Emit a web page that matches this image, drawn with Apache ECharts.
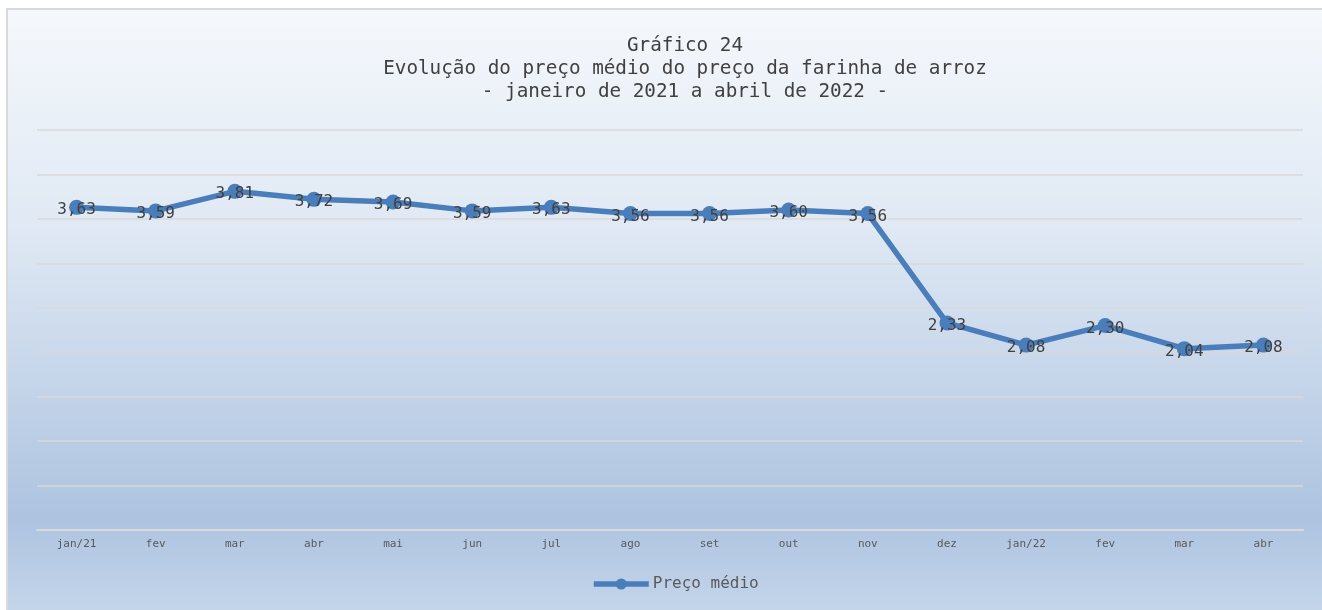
<!DOCTYPE html>
<html>
<head>
<meta charset="utf-8">
<script src="https://cdn.jsdelivr.net/npm/echarts@6/dist/echarts.min.js"></script>
<style>
  html, body { margin: 0; padding: 0; background: #ffffff; }
  #chart { width: 1322px; height: 610px; }
</style>
</head>
<body>
<div id="chart"></div>
<script>
// meses (jan/2021 a abr/2022)
const categorias = ["jan/21", "fev", "mar", "abr", "mai", "jun", "jul", "ago", "set", "out", "nov", "dez", "jan/22", "fev", "mar", "abr"];
// preço médio da farinha de arroz (R$)
const precoMedio = [3.63, 3.59, 3.81, 3.72, 3.69, 3.59, 3.63, 3.56, 3.56, 3.60, 3.56, 2.33, 2.08, 2.30, 2.04, 2.08];

const fonte = "'DejaVu Sans Mono', 'Liberation Mono', monospace";

let chart = echarts.init(document.getElementById("chart"));
let option = {
  backgroundColor: "#ffffff",
  animation: false,
  graphic: [
    {
      type: "rect",
      z: -10,
      silent: true,
      shape: { x: 7, y: 9, width: 1330, height: 620 },
      style: {
        fill: new echarts.graphic.LinearGradient(0, 0, 0, 1, [
          { offset: 0, color: "#f5f8fc" },
          { offset: 0.35, color: "#e0e9f4" },
          { offset: 0.82, color: "#adc3e0" },
          { offset: 1, color: "#c9d9ec" },
        ]),
        stroke: "#d9d9d9",
        lineWidth: 2,
      },
    },
  ],
  title: {
    text: "Gráfico 24\nEvolução do preço médio do preço da farinha de arroz\n- janeiro de 2021 a abril de 2022 -",
    left: 680,
    top: 29,
    textAlign: "center",
    textStyle: {
      fontFamily: fonte,
      fontSize: 19.3,
      fontWeight: "normal",
      color: "#404040",
      lineHeight: 23,
    },
  },
  legend: {
    bottom: 13,
    left: 586,
    itemWidth: 55,
    itemHeight: 14,
    itemGap: 4,
    lineStyle: { width: 5.5, color: "#4a7ebb" },
    textStyle: { fontFamily: fonte, fontSize: 16, color: "#595959", padding: [0, 0, 0, -1] },
    data: ["Preço médio"],
  },
  grid: { left: 37, right: 19, top: 130, bottom: 80 },
  xAxis: {
    type: "category",
    boundaryGap: true,
    data: categorias,
    axisTick: { show: false },
    axisLine: { show: true, lineStyle: { color: "#d9d9d9", width: 2 } },
    axisLabel: { fontFamily: fonte, fontSize: 11, color: "#595959", margin: 9 },
  },
  yAxis: {
    type: "value",
    min: 0,
    max: 4.5,
    interval: 0.5,
    axisLabel: { show: false },
    axisLine: { show: false },
    axisTick: { show: false },
    splitLine: { show: true, lineStyle: { color: "#d9d9d9", width: 1.5 } },
  },
  series: [
    {
      name: "Preço médio",
      type: "line",
      data: precoMedio,
      symbol: "circle",
      symbolSize: 15,
      lineStyle: { color: "#4a7ebb", width: 5.5 },
      itemStyle: { color: "#4a7ebb" },
      label: {
        show: true,
        position: "inside",
        offset: [0, 3],
        fontFamily: fonte,
        fontSize: 16,
        color: "#404040",
        formatter: (p) => p.value.toFixed(2).replace(".", ","),
      },
    },
  ],
};
option && chart.setOption(option);
</script>
</body>
</html>
